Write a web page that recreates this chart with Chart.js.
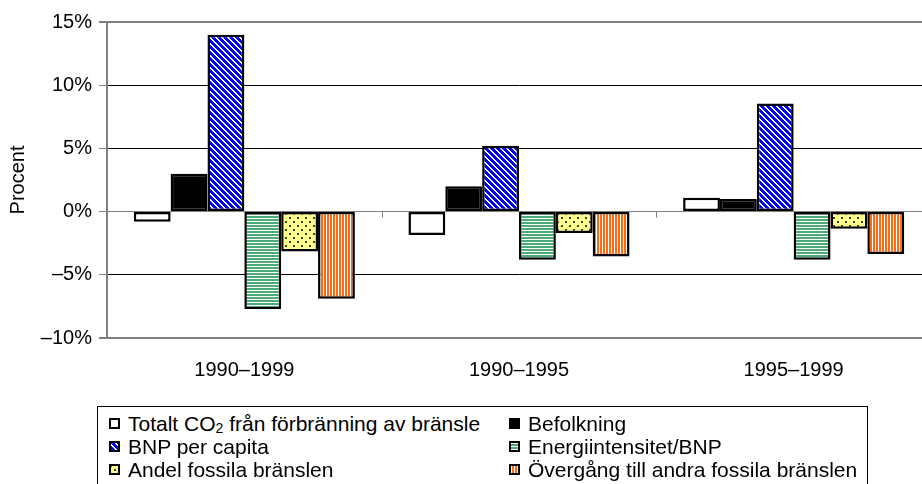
<!DOCTYPE html>
<html>
<head>
<meta charset="utf-8">
<script src="https://cdn.jsdelivr.net/npm/chart.js@4.4.0/dist/chart.umd.min.js"></script>
<style>
  html, body { margin: 0; padding: 0; background: #fff; overflow: hidden; }
  #wrap { position: relative; width: 922px; height: 484px; overflow: hidden; }
  #myChart { position: absolute; left: 0; top: 0; }
  #legend {
    position: absolute; left: 97px; top: 406px; width: 771px; height: 100px;
    border: 1px solid #000; box-sizing: border-box;
    font-family: "Liberation Sans", Arial, sans-serif; font-size: 21px; color: #000;
    padding: 5px 0 0 11px;
    display: grid; grid-template-columns: 400px auto; grid-auto-rows: 23px;
  }
  .item { display: flex; align-items: center; white-space: nowrap; }
  .item canvas { margin-right: 8px; }
  sub { font-size: 14px; vertical-align: -2px; line-height: 0; }
</style>
</head>
<body>
<div id="wrap">
  <canvas id="myChart" width="935" height="400"></canvas>
  <div id="legend"></div>
</div>
<script>
var labels = ["1990–1999", "1990–1995", "1995–1999"];
var totalt = [-0.8, -1.85, 1.1];
var befolkning = [3.0, 2.0, 1.0];
var bnp = [14.0, 5.2, 8.55];
var energi = [-7.7, -3.8, -3.8];
var andel = [-3.15, -1.7, -1.35];
var overgang = [-6.9, -3.55, -3.35];
var seriesNames = ["Totalt CO2 från förbränning av bränsle", "Befolkning", "BNP per capita",
  "Energiintensitet/BNP", "Andel fossila bränslen", "Övergång till andra fossila bränslen"];

// small tiles for the hatched fills
function tile(w, h, fn) {
  var c = document.createElement("canvas");
  c.width = w; c.height = h;
  var g = c.getContext("2d");
  var img = g.createImageData(w, h);
  for (var y = 0; y < h; y++) {
    for (var x = 0; x < w; x++) {
      var col = fn(x, y);
      var i = (y * w + x) * 4;
      img.data[i] = col[0]; img.data[i+1] = col[1]; img.data[i+2] = col[2]; img.data[i+3] = 255;
    }
  }
  g.putImageData(img, 0, 0);
  return c;
}
var W = [255, 255, 255];
var blueTile = tile(6, 6, (x, y) => (((x - y) % 6 + 6) % 6) < 4 ? [0, 0, 255] : W);
var greenTile = tile(1, 3, (x, y) => y % 3 < 2 ? [74, 170, 120] : W);
var yellowTile = tile(8, 8, (x, y) => ((x == 1 || x == 2) && (y == 1 || y == 2)) || ((x == 5 || x == 6) && (y == 5 || y == 6)) ? [60, 60, 40] : [255, 255, 140]);
var orangeTile = tile(3, 1, (x, y) => x % 3 < 2 ? [255, 106, 20] : W);

var ctx = document.getElementById("myChart").getContext("2d");
function pat(t) { return ctx.createPattern(t, "repeat"); }
var fills = ["#ffffff", "#000000", pat(blueTile), pat(greenTile), pat(yellowTile), pat(orangeTile)];
var values = [totalt, befolkning, bnp, energi, andel, overgang];

var datasets = values.map((v, i) => ({
  label: seriesNames[i],
  data: v,
  backgroundColor: fills[i],
  borderColor: "#000",
  borderWidth: 2.5,
  borderSkipped: false
}));

// little tick marks on the zero line between categories
var zeroTicks = {
  id: "zeroTicks",
  beforeDatasetsDraw(chart) {
    var xs = chart.scales.x, ys = chart.scales.y, c = chart.ctx;
    var y0 = ys.getPixelForValue(0);
    var step = xs.width / labels.length;
    c.save();
    c.strokeStyle = "#808080";
    c.lineWidth = 1;
    for (var i = 0; i <= labels.length; i++) {
      var px = Math.round(xs.left + i * step) + 0.5;
      c.beginPath();
      c.moveTo(px, y0);
      c.lineTo(px, y0 + 6);
      c.stroke();
    }
    c.restore();
  }
};

Chart.defaults.font.family = '"Liberation Sans", Arial, sans-serif';
Chart.defaults.color = "#000";

var edgeVals = [15, -10, 0];
var myChart = new Chart(ctx, {
  type: "bar",
  data: { labels: labels, datasets: datasets },
  options: {
    responsive: false,
    animation: false,
    layout: { padding: { top: 22, right: 4, left: 0, bottom: 0 } },
    plugins: { legend: { display: false }, tooltip: { enabled: false } },
    datasets: { bar: { barPercentage: 1, categoryPercentage: 0.805 } },
    scales: {
      x: {
        grid: { display: false, drawTicks: false },
        border: { display: false },
        ticks: { font: { size: 20 }, padding: 20 },
        afterFit: function (s) { s.height = 62; }
      },
      y: {
        min: -10, max: 15,
        ticks: {
          stepSize: 5, font: { size: 20 }, padding: 7,
          callback: v => (v < 0 ? "–" + Math.abs(v) : v) + "%"
        },
        grid: {
          color: c => edgeVals.includes(c.tick.value) ? "#808080" : "#000",
          lineWidth: c => (c.tick.value == 15 || c.tick.value == -10) ? 2 : 1,
          tickLength: 8,
          tickColor: "#808080"
        },
        border: { color: "#808080", width: 2 },
        title: { display: true, text: "Procent", font: { size: 20 }, padding: { top: 6, bottom: 0 } },
        afterFit: function (s) { s.width = 107; }
      }
    }
  },
  plugins: [zeroTicks]
});

// legend below the chart, two columns like the original
var legend = document.getElementById("legend");
datasets.forEach((d, i) => {
  var item = document.createElement("div");
  item.className = "item";
  var ic = document.createElement("canvas");
  ic.width = 11; ic.height = 11;
  var g = ic.getContext("2d");
  var f = [ "#fff", "#000", blueTile, greenTile, yellowTile, orangeTile ][i];
  g.fillStyle = typeof f == "string" ? f : g.createPattern(f, "repeat");
  g.fillRect(0, 0, 11, 11);
  g.strokeStyle = "#000"; g.lineWidth = 2;
  g.strokeRect(1, 1, 9, 9);
  item.appendChild(ic);
  var span = document.createElement("span");
  if (i == 0) span.innerHTML = "Totalt CO<sub>2</sub> från förbränning av bränsle";
  else span.textContent = d.label;
  item.appendChild(span);
  legend.appendChild(item);
});
</script>
</body>
</html>
